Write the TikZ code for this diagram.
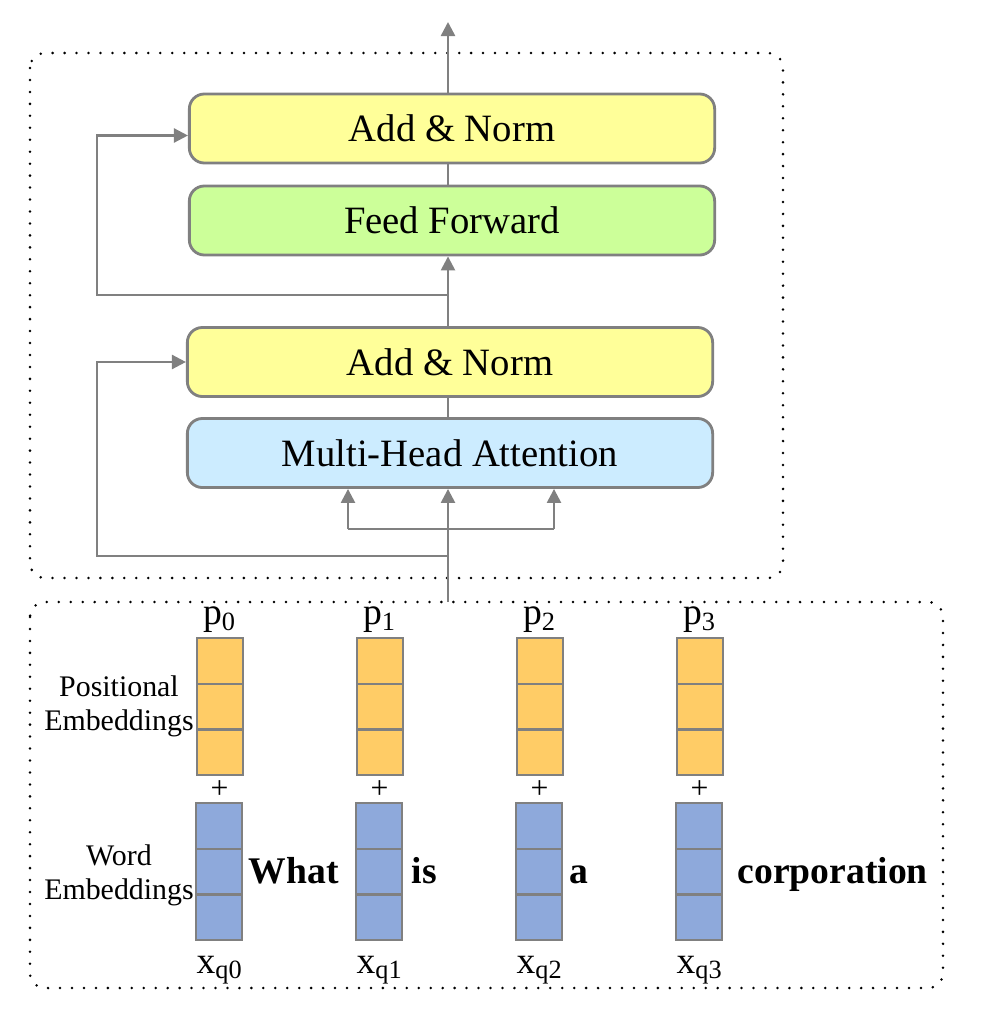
\documentclass[tikz,border=0pt]{standalone}
\usepackage{fontspec}
\setmainfont{Liberation Serif}
\usetikzlibrary{
    arrows.meta,
    positioning,
    calc
}
\definecolor{addnormfill}{HTML}{FFFF99}
\definecolor{ffnfill}{HTML}{CCFF99}
\definecolor{mhafill}{HTML}{CCECFF}
\definecolor{posfill}{HTML}{FFCC66}
\definecolor{wordfill}{HTML}{8EA9DB}
\definecolor{edge}{HTML}{808080}
\tikzset {
    block/.style = {
        draw = edge, line width = 0.8pt, rounded corners = 0.15cm,
        minimum width = 5.25cm, minimum height = 0.69cm,
        font = \fontsize{11}{13}\selectfont
    },
    wire/.style = {draw = edge, line width = 0.7pt},
    link/.style = {wire, -{Triangle[length = 4pt, width = 4pt]}},
    frame/.style = {
        line width = 0.8pt, line cap = round,
        dash pattern = on 0pt off 3.4pt, rounded corners = 0.15cm
    },
    poscell/.style = {
        draw = edge, fill = posfill, line width = 0.6pt,
        minimum width = 0.46cm, minimum height = 0.457cm, inner sep = 0pt
    },
    wordcell/.style = {poscell, fill = wordfill},
    idx/.style = {font = \fontsize{10.7}{12}\selectfont, inner sep = 1pt},
    side/.style = {align = center, font = \fontsize{8.5}{9.6}\selectfont},
    token/.style = {
        anchor = base west, inner sep = 0pt,
        font = \fontsize{10.7}{12}\selectfont\bfseries
    }
}

\begin{document}
\begin{tikzpicture}[x = 0.01cm, y = -0.01cm]
    \useasboundingbox (0, 0) rectangle (984, 1018);

    % dotted frames
    \draw [frame] (30, 53) rectangle (783, 578);
    \draw [frame] (30, 602) rectangle (943, 988);

    % encoder blocks
    \node (an2) [block, fill = addnormfill] at (452, 128.5) {Add \& Norm};
    \node (ff) [block, fill = ffnfill] at (452, 220.5) {Feed Forward};
    \node (an1) [block, fill = addnormfill] at (450, 362) {Add \& Norm};
    \node (mha) [block, fill = mhafill] at (450, 453) {Multi-Head Attention};

    \coordinate (in) at (448, 602);
    \coordinate (out) at (448, 22);
    \coordinate (ql) at (348, 529);
    \coordinate (qr) at (554, 529);
    \coordinate (r1) at (448, 556);
    \coordinate (r1l) at (97, 556);
    \coordinate (r2) at (448, 295);
    \coordinate (r2l) at (97, 295);

    \draw [link] (in) -- (in |- mha.south);
    \draw [wire] (ql) -- (qr);
    \draw [link] (ql) -- (ql |- mha.south);
    \draw [link] (qr) -- (qr |- mha.south);
    \draw [link] (r1) -- (r1l) |- (an1.west);
    \draw [wire] (mha.north -| in) -- (an1.south -| in);
    \draw [link] (an1.north -| in) -- (ff.south -| in);
    \draw [link] (r2) -- (r2l) |- ($ (an2.west) + (0, 7) $);
    \draw [wire] (ff.north -| in) -- (an2.south -| in);
    \draw [link] (an2.north -| in) -- (out);

    % embeddings
    \node (poslbl) [side] at (119, 706) {Positional\\Embeddings};
    \node (wordlbl) [side] at (119, 875) {Word\\Embeddings};
    \foreach \i/\x/\tok/\tx in {0/220/What/248, 1/380/is/411, 2/540/a/569, 3/700/corporation/737} {
        \foreach \j in {0, 1, 2} {
            \node (p\i-\j) [poscell] at (\x, 661 + 45.7 * \j) {};
            \node (w\i-\j) [wordcell] at (\x - 1, 826 + 45.7 * \j) {};
        }
        \node (plbl\i) [idx, above = 0pt of p\i-0] {p\textsubscript{\i}};
        \node (plus\i) [idx, font = \fontsize{9}{10}\selectfont]
            at ($ (p\i-2.south)!0.5!(w\i-0.north) $) {+};
        \node (xlbl\i) [idx, anchor = base] at (\x, 973) {x\textsubscript{q\i}};
        \node (tok\i) [token] at (\tx, 883) {\tok};
    }
\end{tikzpicture}
\end{document}
